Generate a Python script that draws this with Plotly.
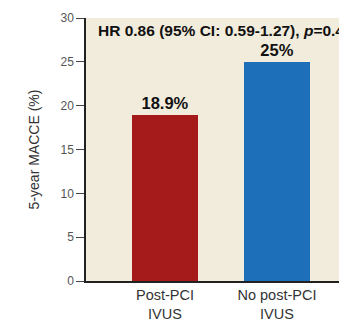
import plotly.graph_objects as go

categories = ["Post-PCI<br>IVUS", "No post-PCI<br>IVUS"]
values = [18.9, 25]
value_labels = ["18.9%", "25%"]
colors = ["#a51b1b", "#1e6fba"]
y_ticks = [0, 5, 10, 15, 20, 25, 30]
hr_text = "HR 0.86 (95% CI: 0.59-1.27), <i>p</i>=0.44"

BOLD_FONT = "Liberation Sans, Arial"
xpos = list(range(len(categories)))
fig = go.Figure()
fig.add_trace(go.Bar(
    x=xpos, y=values, width=0.59,
    marker=dict(color=colors, line=dict(width=0)),
    text=value_labels, textposition="outside",
    textfont=dict(family=BOLD_FONT, size=16.5, color="#111"),
    cliponaxis=False,
))
fig.update_traces(texttemplate="<b>%{text}</b>")

fig.add_annotation(
    x=0, xref="paper", xanchor="left", xshift=10,
    y=30, yref="y", yanchor="middle", yshift=-12,
    text="<b>" + hr_text + "</b>", showarrow=False,
    font=dict(family=BOLD_FONT, size=15.5, color="#111"),
)

fig.update_layout(
    width=339, height=322,
    margin=dict(l=86, r=0, t=18, b=38),
    paper_bgcolor="white",
    plot_bgcolor="#f1ecdc",
    showlegend=False,
    bargap=0,
)
fig.update_xaxes(
    range=[-0.705, 1.554],
    tickmode="array", tickvals=xpos, ticktext=categories,
    ticks="", showgrid=False, zeroline=False,
    showline=True, linecolor="#222", linewidth=1.5,
    tickfont=dict(family="Liberation Sans, Arial", size=14.5, color="#333"),
)
fig.update_yaxes(
    range=[0, 30], tickmode="array", tickvals=y_ticks,
    ticks="outside", ticklen=8, tickwidth=1, tickcolor="#444",
    showgrid=False, zeroline=False,
    showline=True, linecolor="#222", linewidth=1.5,
    tickfont=dict(family="Liberation Sans, Arial", size=12, color="#555"),
    title=dict(text="5-year MACCE (%)", standoff=18,
               font=dict(family="Liberation Sans, Arial", size=14, color="#333")),
)

fig.write_html("out.html")
